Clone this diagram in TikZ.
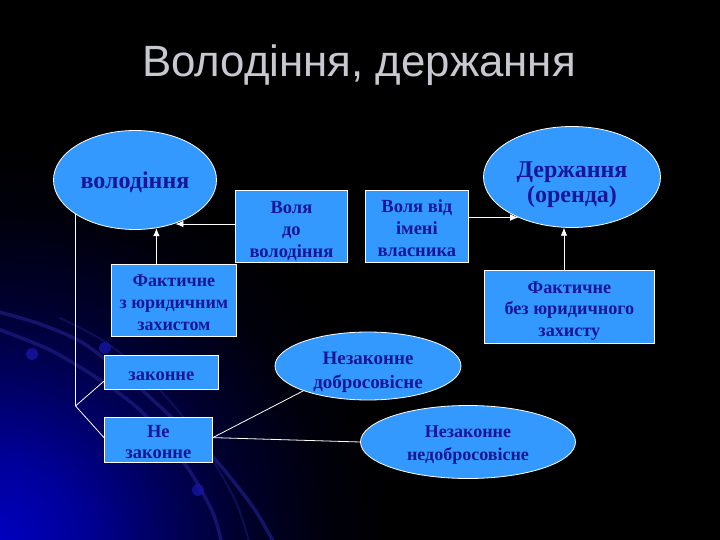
\documentclass[tikz,border=0pt]{standalone}
\usepackage{fontspec}
\setmainfont{Liberation Serif}
\newfontfamily\titlefont{Liberation Sans}
\usetikzlibrary{shapes.geometric,arrows.meta,calc}
\definecolor{boxfill}{RGB}{51,153,255}
\definecolor{boxtext}{RGB}{22,22,150}
\definecolor{titlegray}{RGB}{200,200,208}
\definecolor{arcblue}{RGB}{28,28,125}
\pgfdeclareradialshading{bgblue}{\pgfpoint{0bp}{0bp}}{rgb(0bp)=(0,0,0.75); rgb(6bp)=(0,0,0.6); rgb(12bp)=(0,0,0.38); rgb(18bp)=(0,0,0.18); rgb(25bp)=(0,0,0.04); rgb(30bp)=(0,0,0); rgb(50bp)=(0,0,0)}
\newcommand\lowtab[2]{\raisebox{-#1pt}[\height][\depth]{\begin{tabular}{@{}c@{}}#2\end{tabular}}}
\tikzset{
  rbox/.style={draw=white, line width=0.8pt, fill=boxfill, text=boxtext, font=\bfseries, inner sep=0pt, anchor=north west},
  ell/.style={ellipse, draw=white, line width=0.8pt, fill=boxfill, text=boxtext, font=\bfseries, inner sep=0pt},
  conn/.style={draw=white, line width=0.8pt},
  arr/.style={conn, -{Latex[length=8pt,width=6.5pt]}},
  deco/.style={draw=arcblue, line width=3.5pt, opacity=0.75, line cap=round},
  dot/.style={fill=arcblue!75!blue, opacity=0.85}
}
\begin{document}
\begin{tikzpicture}[x=1pt,y=-1pt]
\useasboundingbox (0,0) rectangle (720,540);
\fill[black] (0,0) rectangle (720,540);
\begin{scope}
\clip (0,0) rectangle (720,540);
\begin{pgfscope}
\pgftransformshift{\pgfpoint{0pt}{-540pt}}
\pgftransformscale{13.2}
\pgflowlevelsynccm
\pgfuseshading{bgblue}
\end{pgfscope}
\draw[deco] plot[smooth] coordinates {(-5,311) (40,324) (83,343) (127,377) (167,413) (213,457) (253,507) (275,545)};
\draw[deco] plot[smooth] coordinates {(-5,328) (50,350) (100,380) (143,413) (187,467) (213,513) (222,545)};
\draw[deco, line width=2pt, opacity=0.5] plot[smooth] coordinates {(60,318) (110,345) (160,390) (200,440) (235,500) (250,545)};
\fill[dot] (32,354) circle (6);
\fill[dot] (105,348) circle (6);
\fill[dot] (198,490) circle (6);
\end{scope}

\node[text=titlegray, font=\titlefont\fontsize{43.8}{48}\selectfont, anchor=base] (title) at (359,77) {Володіння, держання};

\node[ell, minimum width=163pt, minimum height=99pt, font=\bfseries\fontsize{24}{28}\selectfont] (vol) at (135,180) {\lowtab{3}{володіння}};
\node[ell, minimum width=177pt, minimum height=101pt, font=\bfseries\fontsize{24}{25.5}\selectfont] (der) at (572,177) {\lowtab{8}{Держання\\(оренда)}};

\node[rbox, minimum width=112pt, minimum height=72pt, font=\bfseries\fontsize{18.5}{22}\selectfont] (vd) at (235,190) {\lowtab{5}{Воля\\до\\володіння}};
\node[rbox, minimum width=103pt, minimum height=72pt, font=\bfseries\fontsize{18.5}{22}\selectfont] (vv) at (365,190) {\lowtab{4}{Воля від\\імені\\власника}};

\node[rbox, minimum width=125pt, minimum height=72pt, font=\bfseries\fontsize{18}{22}\selectfont] (fz) at (111,264) {\lowtab{4}{Фактичне\\з юридичним\\захистом}};
\node[rbox, minimum width=170pt, minimum height=73pt, font=\bfseries\fontsize{18.2}{21.5}\selectfont] (fb) at (484,270) {\lowtab{3.5}{Фактичне\\без юридичного\\захисту}};

\node[rbox, minimum width=114pt, minimum height=34pt, font=\bfseries\fontsize{18.5}{21}\selectfont] (zk) at (104,355) {\lowtab{4}{законне}};
\node[rbox, minimum width=108pt, minimum height=45pt, font=\bfseries\fontsize{18.5}{21}\selectfont] (nz) at (104,417) {\lowtab{4}{Не\\законне}};

\node[ell, minimum width=186pt, minimum height=68pt, font=\bfseries\fontsize{19}{24}\selectfont] (nd) at (368,366) {\lowtab{5.6}{Незаконне\\добросовісне}};
\node[ell, minimum width=215pt, minimum height=73pt, font=\bfseries\fontsize{18}{23}\selectfont] (nn) at (468,442) {\lowtab{2}{Незаконне\\недобросовісне}};

% connectors
\draw[arr] (vol.-66 |- fz.north) -- (vol.-66);
\draw[arr] (vd.west |- 0,224) -- (vol.-47 |- 0,224);
\draw[arr] (vv.east |- der.217) -- (der.217);
\draw[arr] (der.-99 |- fb.north) -- (der.-99);
\coordinate (j) at (vol.-150 |- 0,406);
\draw[conn] (vol.-150) -- (j);
\draw[conn] (j) -- ($(zk.west)!0.5!(zk.south west)$);
\draw[conn] (j) -- ($(nz.west)!0.1!(nz.north west)$);
\draw[conn] ($(nz.east)!0.1!(nz.north east)$) -- (nd.201);
\draw[conn] ($(nz.east)!0.1!(nz.north east)$) -- (nn.west);
\end{tikzpicture}
\end{document}
